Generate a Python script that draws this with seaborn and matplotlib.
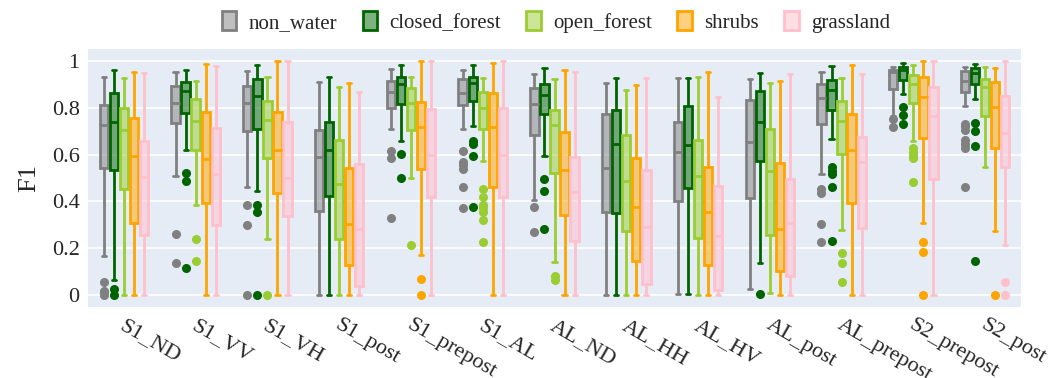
import numpy as np
import pandas as pd
import matplotlib
matplotlib.use("Agg")
import matplotlib.pyplot as plt
import matplotlib.transforms as mtransforms
from matplotlib.colors import to_rgba
from matplotlib.patches import Patch
import seaborn as sns

methods = ["S1_ND", "S1_VV", "S1_VH", "S1_post", "S1_prepost", "S1_AL", "AL_ND",
           "AL_HH", "AL_HV", "AL_post", "AL_prepost", "S2_prepost", "S2_post"]
classes = ["non_water", "closed_forest", "open_forest", "shrubs", "grassland"]
colors = ["#808080", "#006400", "#9ACD32", "#FFA500", "#FFC0CB"]

# (lower whisker, q1, median, q3, upper whisker) per method
non_water = [(0.166, 0.541, 0.725, 0.811, 0.929), (0.508, 0.733, 0.821, 0.893, 0.950),
             (0.462, 0.700, 0.818, 0.893, 0.956), (0.000, 0.361, 0.590, 0.703, 0.908),
             (0.707, 0.797, 0.868, 0.915, 0.963), (0.707, 0.811, 0.863, 0.923, 0.960),
             (0.405, 0.683, 0.814, 0.882, 0.942), (0.000, 0.356, 0.543, 0.772, 0.906),
             (0.007, 0.401, 0.610, 0.737, 0.925), (0.026, 0.415, 0.654, 0.832, 0.920),
             (0.515, 0.730, 0.842, 0.902, 0.953), (0.764, 0.879, 0.950, 0.960, 0.974),
             (0.807, 0.868, 0.915, 0.957, 0.974)]
non_water_out = [[0.055, 0.02, 0.01, 0.0], [0.263, 0.138], [0.384, 0.299, 0.0], [],
                 [0.615, 0.586, 0.330], [0.615, 0.57, 0.555, 0.54, 0.462, 0.374],
                 [0.375, 0.270], [], [], [], [0.451, 0.434, 0.306, 0.228],
                 [0.752, 0.718], [0.73, 0.72, 0.705, 0.66, 0.645, 0.63, 0.462]]

closed_forest = [(0.064, 0.536, 0.737, 0.861, 0.960), (0.619, 0.778, 0.871, 0.910, 0.960),
                 (0.444, 0.711, 0.849, 0.920, 0.981), (0.000, 0.422, 0.619, 0.737, 0.932),
                 (0.657, 0.814, 0.899, 0.932, 0.981), (0.723, 0.828, 0.903, 0.932, 0.981),
                 (0.593, 0.772, 0.856, 0.902, 0.967), (0.000, 0.349, 0.644, 0.788, 0.927),
                 (0.007, 0.458, 0.640, 0.805, 0.925), (0.138, 0.573, 0.740, 0.871, 0.946),
                 (0.667, 0.791, 0.875, 0.916, 0.976), (0.858, 0.916, 0.960, 0.974, 0.989),
                 (0.838, 0.902, 0.949, 0.969, 0.986)]
closed_forest_out = [[0.028, 0.0], [0.522, 0.488, 0.118], [0.387, 0.356, 0.0], [],
                     [0.602, 0.501], [0.659, 0.644, 0.595, 0.377], [0.495, 0.444, 0.284],
                     [], [], [0.004], [0.545, 0.529, 0.519, 0.461, 0.233],
                     [0.804, 0.768, 0.730], [0.733, 0.701, 0.636, 0.144]]

open_forest = [(0.000, 0.451, 0.704, 0.797, 0.925), (0.384, 0.619, 0.745, 0.838, 0.915),
               (0.242, 0.586, 0.747, 0.828, 0.932), (0.000, 0.242, 0.474, 0.660, 0.890),
               (0.498, 0.704, 0.821, 0.882, 0.932), (0.572, 0.711, 0.799, 0.868, 0.925),
               (0.142, 0.522, 0.724, 0.792, 0.922), (0.000, 0.275, 0.486, 0.684, 0.875),
               (0.000, 0.246, 0.509, 0.661, 0.929), (0.011, 0.256, 0.531, 0.708, 0.906),
               (0.277, 0.602, 0.744, 0.828, 0.925), (0.657, 0.821, 0.899, 0.939, 0.981),
               (0.545, 0.765, 0.886, 0.920, 0.972)]
open_forest_out = [[], [0.239, 0.147], [0.0], [], [0.216],
                   [0.451, 0.420, 0.387, 0.373, 0.353, 0.323, 0.226], [0.081, 0.067],
                   [], [], [], [0.181, 0.138, 0.058], [0.630, 0.612, 0.597, 0.587, 0.485], []]

shrubs = [(0.000, 0.309, 0.593, 0.757, 0.950), (0.000, 0.395, 0.583, 0.782, 0.984),
          (0.000, 0.434, 0.619, 0.782, 1.000), (0.000, 0.131, 0.304, 0.543, 0.903),
          (0.171, 0.538, 0.718, 0.825, 1.000), (0.000, 0.462, 0.718, 0.861, 0.989),
          (0.000, 0.341, 0.536, 0.697, 0.960), (0.000, 0.147, 0.377, 0.586, 0.896),
          (0.000, 0.128, 0.354, 0.546, 0.953), (0.000, 0.102, 0.284, 0.565, 0.912),
          (0.000, 0.395, 0.619, 0.771, 0.981), (0.309, 0.671, 0.844, 0.932, 1.000),
          (0.273, 0.626, 0.804, 0.908, 0.967)]
shrubs_out = [[], [], [], [], [0.070, 0.0], [], [], [], [], [], [],
              [0.226, 0.186, 0.0], [0.0]]

grassland = [(0.000, 0.256, 0.505, 0.659, 0.947), (0.000, 0.299, 0.515, 0.714, 0.977),
             (0.000, 0.339, 0.498, 0.740, 1.000), (0.000, 0.038, 0.282, 0.558, 0.868),
             (0.000, 0.420, 0.600, 0.795, 1.000), (0.000, 0.420, 0.600, 0.799, 1.000),
             (0.000, 0.232, 0.441, 0.590, 0.950), (0.000, 0.046, 0.292, 0.533, 0.926),
             (0.000, 0.021, 0.252, 0.467, 0.846), (0.000, 0.081, 0.309, 0.496, 0.943),
             (0.000, 0.287, 0.568, 0.676, 0.943), (0.000, 0.494, 0.764, 0.889, 1.000),
             (0.213, 0.548, 0.693, 0.851, 1.000)]
grassland_out = [[], [], [], [], [], [], [], [], [], [], [], [], [0.055, 0.0]]

yticks = [0, 0.2, 0.4, 0.6, 0.8, 1]
ytick_labels = ["0", "0.2", "0.4", "0.6", "0.8", "1"]

stats_by_class = dict(zip(classes, [non_water, closed_forest, open_forest, shrubs, grassland]))
outs_by_class = dict(zip(classes, [non_water_out, closed_forest_out, open_forest_out,
                                   shrubs_out, grassland_out]))

# Build a long table whose quartiles reproduce the read-off box statistics
rows = []
weights = [1, 20, 20, 20, 1]
for cls in classes:
    for m, st, outs in zip(methods, stats_by_class[cls], outs_by_class[cls]):
        for v, w in zip(st, weights):
            rows += [(m, cls, v)] * w
        rows += [(m, cls, v) for v in outs]
df = pd.DataFrame(rows, columns=["method", "cls", "F1"])

sns.set_theme(style="white")
plt.rcParams["font.family"] = ["Liberation Serif", "DejaVu Serif"]

fig = plt.figure(figsize=(10.54, 3.78), dpi=100)
ax = fig.add_axes([88 / 1054, 1 - 307 / 378, (1021 - 88) / 1054, (307 - 49) / 378])
ax.set_facecolor("#E5ECF6")

palette = dict(zip(classes, colors))
for cls, col in zip(classes, colors):
    sub = df[df["cls"] == cls]
    n_before = len(ax.patches)
    sns.boxplot(data=sub, x="method", y="F1", hue="cls", order=methods,
                hue_order=classes, palette=palette, linecolor=col, linewidth=2,
                width=0.7, gap=0.17, whis=1.5, dodge=True, legend=False, ax=ax,
                flierprops=dict(marker="o", markerfacecolor=col, markeredgecolor=col,
                                markersize=5.5))
    for p in ax.patches[n_before:]:
        p.set_facecolor(to_rgba(col, 0.5))
        p.set_edgecolor(col)

ax.set_ylim(-0.05, 1.05)
ax.set_xlim(-0.5, len(methods) - 0.5)
ax.set_yticks(yticks)
ax.set_yticklabels(ytick_labels, fontsize=16)
ax.yaxis.grid(True, color="white", linewidth=1.2)
ax.xaxis.grid(False)
ax.set_axisbelow(True)
for s in ax.spines.values():
    s.set_visible(False)
ax.tick_params(axis="both", length=0)
ax.tick_params(axis="y", pad=6)
ax.set_xlabel("")
ax.set_ylabel("F1", fontsize=19, labelpad=8)

ax.set_xticks(range(len(methods)))
ax.set_xticklabels(methods, rotation=-30, ha="left", va="top",
                   rotation_mode="anchor", fontsize=16)
offset = mtransforms.ScaledTranslation(2 / 100, -4 / 100, fig.dpi_scale_trans)
for lbl in ax.get_xticklabels():
    lbl.set_transform(lbl.get_transform() + offset)

handles = [Patch(facecolor=to_rgba(c, 0.5), edgecolor=c, linewidth=2, label=cl)
           for cl, c in zip(classes, colors)]
fig.legend(handles=handles, loc="center", bbox_to_anchor=(556 / 1054, 1 - 22 / 378),
           ncol=5, frameon=False, fontsize=15, handlelength=0.7, handleheight=1.0,
           columnspacing=1.2, handletextpad=0.6)

fig.savefig("out.png", dpi=100)
